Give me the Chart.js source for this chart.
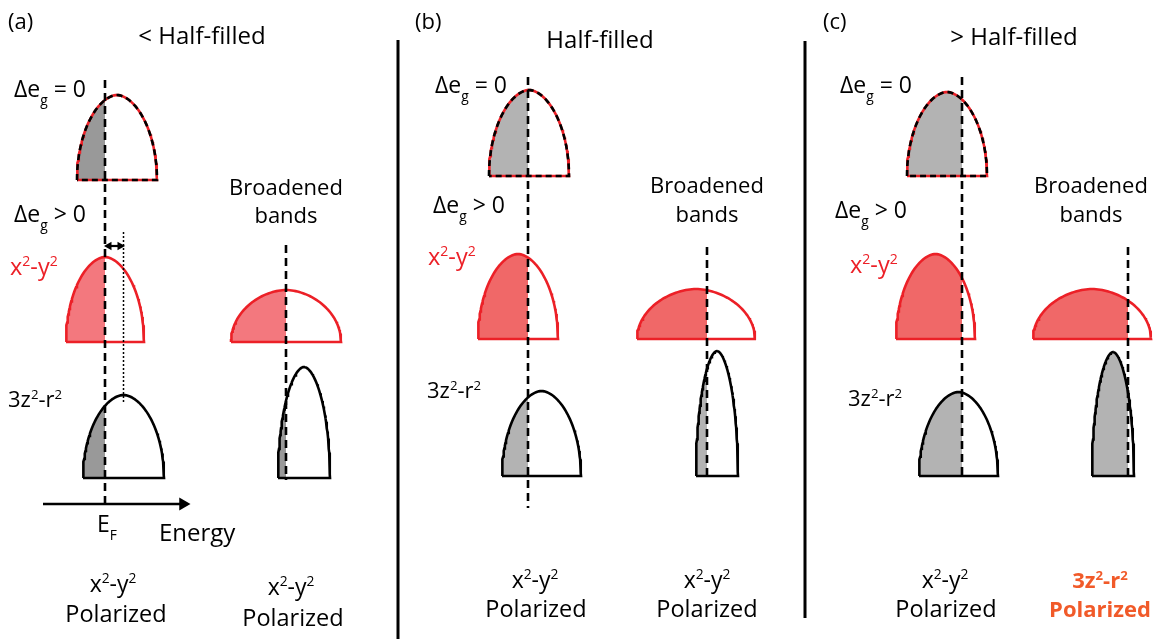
<!DOCTYPE html>
<html>
<head>
<meta charset="utf-8">
<script src="https://cdn.jsdelivr.net/npm/chart.js@4.4.1/dist/chart.umd.min.js"></script>
<style>
  html, body { margin: 0; padding: 0; background: #fff; overflow: hidden; }
  canvas { display: block; }
</style>
</head>
<body>
<canvas id="dos" width="1158" height="639"></canvas>
<script>
// ---- Schematic density-of-states bands (energy runs left to right) ----
// Panel of each band: 0 = (a) < half-filled, 1 = (b) half-filled, 2 = (c) > half-filled
const bandPanel   = [0, 0, 0, 0, 0,   1, 1, 1, 1, 1,   2, 2, 2, 2, 2];
// Orbital character: 'deg' = degenerate eg pair, 'x2' = x2-y2, 'z2' = 3z2-r2
const bandOrbital = ['deg', 'x2', 'z2', 'x2', 'z2',  'deg', 'x2', 'z2', 'x2', 'z2',  'deg', 'x2', 'z2', 'x2', 'z2'];
// Lower and upper band edges (energy)
const bandLow     = [77, 66, 83, 231, 278,   489, 478, 502, 637, 696,   907, 896, 919, 1033, 1092];
const bandHigh    = [157, 144, 164, 341, 330,  569, 558, 581, 755, 738,  987, 975, 998, 1151, 1134];
// Baseline row of each band and the row reached by its peak
const bandBase    = [180, 342, 478, 342, 478,  176, 339, 476, 339, 476,  176, 339, 476, 339, 476];
const bandPeak    = [95, 257, 395, 290, 367,   90, 254, 391, 289, 351,   92, 254, 392, 289, 352];
// Fermi energy that cuts each band (states below it are occupied)
const bandFermi   = [105, 105, 105, 286, 286,  528, 528, 528, 707, 707,  962, 962, 962, 1128, 1128];

// Dashed Fermi-level markers: energy, top row, bottom row
const fermiEnergy = [105, 286, 528, 707, 962, 1128];
const fermiTop    = [80, 245, 77, 247, 77, 247];
const fermiBottom = [505, 480, 508, 477, 477, 477];

// Occupied-state shading for each panel
const grayFill = ['#999999', '#b3b3b3', '#b3b3b3'];
const redFill  = ['#f3787e', '#f06868', '#f06868'];
const RED = '#ec2027';

// Panel headings
const panelTags   = ['(a)', '(b)', '(c)'];
const panelTitles = ['< Half-filled', 'Half-filled', '> Half-filled'];
const outcomeOrbital = ['x^2-y^2', 'x^2-y^2', 'x^2-y^2', 'x^2-y^2', 'x^2-y^2', '3z^2-r^2'];
const outcomeWord    = 'Polarized';

// Band profile: rounded dome that meets the baseline vertically
function profile(i, upTo) {
  const c = (bandLow[i] + bandHigh[i]) / 2;
  const w = (bandHigh[i] - bandLow[i]) / 2;
  const h = bandBase[i] - bandPeak[i];
  const uEnd = upTo === undefined ? 1 : Math.max(-1, Math.min(1, (upTo - c) / w));
  const tEnd = Math.acos(-uEnd);
  const pts = [];
  const N = 90;
  for (let k = 0; k <= N; k++) {
    const t = tEnd * k / N;
    const u = -Math.cos(t);
    const x = c + u * w;
    const y = bandBase[i] - h * Math.sqrt(Math.max(0, 1 - Math.pow(Math.abs(u), 1.8)));
    pts.push({ x, y });
  }
  return pts;
}

const datasets = [];
const lineBase = { pointRadius: 0, tension: 0, fill: false, borderJoinStyle: 'miter', borderCapStyle: 'butt' };

bandLow.forEach((lo, i) => {
  const p = bandPanel[i];
  const kind = bandOrbital[i];
  const shade = kind === 'x2' ? redFill[p] : grayFill[p];
  // occupied part
  datasets.push(Object.assign({}, lineBase, {
    data: profile(i, bandFermi[i]),
    borderWidth: 0, borderColor: 'rgba(0,0,0,0)',
    backgroundColor: shade,
    fill: { value: bandBase[i] },
    order: 9
  }));
  // outline (closed along the baseline)
  const outline = profile(i);
  outline.push({ x: bandLow[i], y: bandBase[i] });
  if (kind === 'deg') {
    datasets.push(Object.assign({}, lineBase, {
      data: outline, borderColor: RED, borderWidth: 2.6, order: 8
    }));
    datasets.push(Object.assign({}, lineBase, {
      data: outline.map(q => ({ x: q.x, y: q.y })), borderColor: '#000', borderWidth: 2.6,
      borderDash: [6, 4], order: 7
    }));
  } else {
    datasets.push(Object.assign({}, lineBase, {
      data: outline, borderColor: kind === 'x2' ? RED : '#000', borderWidth: 2.6, order: 8
    }));
  }
});

// Fermi levels
fermiEnergy.forEach((e, k) => {
  datasets.push(Object.assign({}, lineBase, {
    data: [{ x: e, y: fermiTop[k] }, { x: e, y: fermiBottom[k] }],
    borderColor: '#000', borderWidth: 2.6, borderDash: [8, 5], order: 5
  }));
});

// Shift of the 3z2-r2 band centre in (a)
const shiftFrom = 105, shiftTo = 124;
const z2Centre = (bandLow[2] + bandHigh[2]) / 2;
datasets.push(Object.assign({}, lineBase, {
  data: [{ x: z2Centre, y: 232 }, { x: z2Centre, y: 402 }],
  borderColor: '#000', borderWidth: 1.5, borderDash: [2, 2], order: 5
}));
datasets.push(Object.assign({}, lineBase, {
  data: [{ x: shiftFrom + 4, y: 246 }, { x: shiftTo - 4, y: 246 }],
  borderColor: '#000', borderWidth: 2.2,
  pointRadius: [5, 5], pointStyle: 'triangle', pointRotation: [-90, 90],
  pointBackgroundColor: '#000', pointBorderWidth: 0, order: 4
}));

// Energy axis arrow
datasets.push(Object.assign({}, lineBase, {
  data: [{ x: 43, y: 504 }, { x: 183, y: 504 }],
  borderColor: '#000', borderWidth: 2.6,
  pointRadius: [0, 7.5], pointStyle: 'triangle', pointRotation: [0, 90],
  pointBackgroundColor: '#000', pointBorderWidth: 0, order: 4
}));

// Panel separators
datasets.push(Object.assign({}, lineBase, {
  data: [{ x: 398, y: 40 }, { x: 398, y: 639 }], borderColor: '#000', borderWidth: 3, order: 3
}));
datasets.push(Object.assign({}, lineBase, {
  data: [{ x: 805, y: 41 }, { x: 805, y: 618 }], borderColor: '#000', borderWidth: 3, order: 3
}));

// Text: x, baseline, alignment, content, font size, colour, weight
const texts = [
  [8, 29, 'left', panelTags[0], 22], [415, 29, 'left', panelTags[1], 22], [823, 29, 'left', panelTags[2], 22],
  [202, 44, 'center', panelTitles[0], 24], [600, 48, 'center', panelTitles[1], 24], [1014, 45, 'center', panelTitles[2], 24],
  [14, 97, 'left', 'Δe_g = 0', 23], [435, 93, 'left', 'Δe_g = 0', 23], [840, 93, 'left', 'Δe_g = 0', 23],
  [14, 222, 'left', 'Δe_g > 0', 23], [433, 213, 'left', 'Δe_g > 0', 23], [835, 218, 'left', 'Δe_g > 0', 23],
  [286, 195, 'center', 'Broadened', 22], [286, 223, 'center', 'bands', 22],
  [707, 193, 'center', 'Broadened', 22], [707, 222, 'center', 'bands', 22],
  [1091, 193, 'center', 'Broadened', 22], [1091, 222, 'center', 'bands', 22],
  [10, 275, 'left', 'x^2-y^2', 23.5, RED], [428, 265, 'left', 'x^2-y^2', 23.5, RED], [850, 273, 'left', 'x^2-y^2', 23.5, RED],
  [8, 407, 'left', '3z^2-r^2', 22], [427, 398, 'left', '3z^2-r^2', 22], [848, 406, 'left', '3z^2-r^2', 22],
  [97, 532, 'left', 'E_F', 23], [159, 541, 'left', 'Energy', 24],
  [113, 592, 'center', outcomeOrbital[0], 23], [116, 622, 'center', outcomeWord, 23.5],
  [291, 595, 'center', outcomeOrbital[1], 23], [293, 626, 'center', outcomeWord, 23.5],
  [535, 588, 'center', outcomeOrbital[2], 23], [536, 617, 'center', outcomeWord, 23.5],
  [707, 588, 'center', outcomeOrbital[3], 23], [707, 617, 'center', outcomeWord, 23.5],
  [945, 588, 'center', outcomeOrbital[4], 23], [946, 617, 'center', outcomeWord, 23.5],
  [1100, 588, 'center', outcomeOrbital[5], 22, '#f15a29', 'bold'], [1100, 617, 'center', outcomeWord, 22, '#f15a29', 'bold']
];

function drawRich(ctx, str, x, y, align, size, color, weight) {
  const parts = [];
  for (let i = 0; i < str.length; i++) {
    const ch = str[i];
    if ((ch === '^' || ch === '_') && i + 1 < str.length) {
      parts.push({ t: str[i + 1], m: ch }); i++;
    } else if (parts.length && parts[parts.length - 1].m === '') {
      parts[parts.length - 1].t += ch;
    } else {
      parts.push({ t: ch, m: '' });
    }
  }
  const font = s => `${weight} ${s}px "Open Sans", sans-serif`;
  const small = size * 0.6;
  let total = 0;
  parts.forEach(p => { ctx.font = font(p.m ? small : size); p.w = ctx.measureText(p.t).width; total += p.w; });
  let cx = align === 'center' ? x - total / 2 : x;
  ctx.fillStyle = color;
  ctx.textAlign = 'left';
  ctx.textBaseline = 'alphabetic';
  parts.forEach(p => {
    ctx.font = font(p.m ? small : size);
    const dy = p.m === '^' ? -size * 0.38 : (p.m === '_' ? size * 0.36 : 0);
    ctx.fillText(p.t, cx, y + dy);
    cx += p.w;
  });
}

const paper = {
  id: 'paper',
  beforeDraw(chart) {
    const c = chart.ctx;
    c.save(); c.fillStyle = '#fff'; c.fillRect(0, 0, chart.width, chart.height); c.restore();
  }
};
const labels = {
  id: 'labels',
  afterDraw(chart) {
    const c = chart.ctx;
    c.save();
    texts.forEach(t => {
      const [xv, yv, align, str, size, color, weight] = t;
      const px = chart.scales.x.getPixelForValue(xv);
      const py = chart.scales.y.getPixelForValue(yv);
      drawRich(c, str, px, py, align, size, color || '#000', weight || 'normal');
    });
    c.restore();
  }
};

new Chart(document.getElementById('dos'), {
  type: 'line',
  data: { datasets },
  options: {
    responsive: false,
    animation: false,
    devicePixelRatio: 1,
    events: [],
    layout: { padding: 0, autoPadding: false },
    plugins: { legend: { display: false }, tooltip: { enabled: false } },
    scales: {
      x: { type: 'linear', min: 0, max: 1158, display: false },
      y: { type: 'linear', min: 0, max: 639, reverse: true, display: false }
    }
  },
  plugins: [paper, labels]
});
</script>
</body>
</html>
